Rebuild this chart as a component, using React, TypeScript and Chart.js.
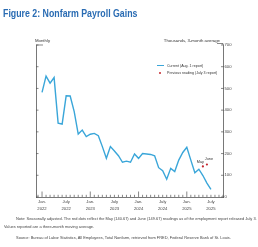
import React, { useEffect, useRef } from "react";
import { Chart, registerables } from "chart.js";
Chart.register(...registerables);

// Months Jan 2022 .. Jul 2025 (index 0..42)
const months = [
  "2022-01","2022-02","2022-03","2022-04","2022-05","2022-06","2022-07","2022-08","2022-09","2022-10","2022-11","2022-12",
  "2023-01","2023-02","2023-03","2023-04","2023-05","2023-06","2023-07","2023-08","2023-09","2023-10","2023-11","2023-12",
  "2024-01","2024-02","2024-03","2024-04","2024-05","2024-06","2024-07","2024-08","2024-09","2024-10","2024-11","2024-12",
  "2025-01","2025-02","2025-03","2025-04","2025-05","2025-06","2025-07",
];
// Current (Aug. 1 report), thousands, 3-month average
const currentValues = [
  482, 557, 524, 550, 340, 336, 466, 465, 393, 290, 308, 278,
  289, 293, 282, 232, 178, 232, 212, 190, 160, 165, 160, 198,
  178, 200, 198, 196, 190, 135, 121, 82, 132, 117, 170, 205,
  229, 170, 112, 128, 99, 64, 35,
];
// Previous reading (July 3 report)
const previousMonths = ["2025-05", "2025-06"];
const previousValues = [140.67, 149.67];
const previousLabels = ["May", "June"];

const xTickMonths = ["2022-01","2022-07","2023-01","2023-07","2024-01","2024-07","2025-01","2025-07"];
const xTickLabels = [["Jan.","2022"],["July","2022"],["Jan.","2023"],["July","2023"],["Jan.","2024"],["July","2024"],["Jan.","2025"],["July","2025"]];
const yTicks = [0, 100, 200, 300, 400, 500, 600, 700];

const LINE_COLOR = "#3aa6d9";
const DOT_COLOR = "#c4262e";
const AXIS_COLOR = "#555";
const FONT = "'Liberation Sans', Arial, sans-serif";

const idx = (m: string) => months.indexOf(m);

const decorPlugin = {
  id: "decor",
  afterDraw(chart: any) {
    const { ctx, chartArea, scales } = chart;
    const x = scales.x;
    const yr = scales.y;
    ctx.save();
    ctx.strokeStyle = AXIS_COLOR;
    ctx.lineWidth = 0.7;
    ctx.beginPath();
    // monthly minor ticks and Jan major ticks (inward)
    for (let i = -1; i <= 45; i++) {
      if (i < x.min || i > x.max) continue;
      const px = x.getPixelForValue(i);
      const monthIdx = ((i % 12) + 12) % 12;
      const len = monthIdx === 0 ? 5.5 : 2.2;
      ctx.moveTo(px, chartArea.bottom);
      ctx.lineTo(px, chartArea.bottom - len);
    }
    // y ticks on both axes
    yTicks.forEach((v) => {
      const py = yr.getPixelForValue(v);
      ctx.moveTo(chartArea.left, py);
      ctx.lineTo(chartArea.left + 2.5, py);
      ctx.moveTo(chartArea.right - 2, py);
      ctx.lineTo(chartArea.right + 1, py);
    });
    // brackets at axis tops
    ctx.moveTo(chartArea.left, chartArea.top);
    ctx.lineTo(chartArea.left + 7, chartArea.top);
    ctx.moveTo(chartArea.right, chartArea.top - 1.5);
    ctx.lineTo(chartArea.right - 6, chartArea.top - 1.5);
    ctx.moveTo(chartArea.right, chartArea.top - 1.5);
    ctx.lineTo(chartArea.right, chartArea.top);
    ctx.stroke();

    // May / June labels
    ctx.fillStyle = "#333";
    ctx.font = `3.8px ${FONT}`;
    ctx.textBaseline = "middle";
    ctx.textAlign = "center";
    previousMonths.forEach((m, k) => {
      const px = x.getPixelForValue(idx(m));
      const py = yr.getPixelForValue(previousValues[k]);
      if (k === 0) {
        ctx.fillText(previousLabels[k], px - 2.5, py - 4.5);
      } else {
        ctx.fillText(previousLabels[k], px + 2, py - 5.5);
      }
    });
    ctx.restore();
  },
};

export default function App() {
  const ref = useRef<HTMLCanvasElement | null>(null);
  useEffect(() => {
    if (!ref.current) return;
    const chart = new Chart(ref.current, {
      type: "line",
      data: {
        datasets: [
          {
            label: "Current (Aug. 1 report)",
            data: currentValues.map((v, i) => ({ x: i, y: v })),
            borderColor: LINE_COLOR,
            borderWidth: 1.4,
            pointRadius: 0,
            tension: 0,
            yAxisID: "y",
          },
          {
            label: "Previous reading (July 3 report)",
            data: previousMonths.map((m, k) => ({ x: idx(m), y: previousValues[k] })),
            showLine: false,
            pointRadius: 1.1,
            pointBackgroundColor: DOT_COLOR,
            pointBorderColor: DOT_COLOR,
            borderWidth: 0,
            yAxisID: "y",
          },
        ],
      },
      options: {
        responsive: false,
        animation: false,
        devicePixelRatio: 1,
        layout: { padding: { left: 36, top: 45, right: 0, bottom: 0 } },
        plugins: { legend: { display: false }, tooltip: { enabled: false }, title: { display: false } },
        scales: {
          x: {
            type: "linear",
            min: -1.5,
            max: 45,
            grid: { display: false, drawTicks: false },
            border: { display: true, color: AXIS_COLOR, width: 0.8 },
            afterBuildTicks: (scale: any) => {
              scale.ticks = xTickMonths.map((m) => ({ value: idx(m) }));
            },
            afterFit: (scale: any) => {
              scale.height = 50;
            },
            ticks: {
              autoSkip: false,
              maxRotation: 0,
              padding: 1.5,
              color: "#444",
              font: { size: 4.2, family: FONT, lineHeight: 1.7 },
              callback: (value: any) => {
                const k = xTickMonths.findIndex((m) => idx(m) === value);
                return k >= 0 ? xTickLabels[k] : "";
              },
            },
          },
          y: {
            position: "right",
            min: 0,
            max: 700,
            grid: { display: false, drawTicks: false },
            border: { display: true, color: AXIS_COLOR, width: 0.8 },
            afterBuildTicks: (scale: any) => {
              scale.ticks = yTicks.map((v) => ({ value: v }));
            },
            afterFit: (scale: any) => {
              scale.width = 35;
            },
            ticks: { padding: 1.5, color: "#444", font: { size: 4.2, family: FONT } },
          },
          yl: {
            position: "left",
            min: 0,
            max: 700,
            grid: { display: false, drawTicks: false },
            border: { display: true, color: AXIS_COLOR, width: 0.8 },
            ticks: { display: false },
            afterFit: (scale: any) => {
              scale.width = 0;
            },
          },
        },
      },
      plugins: [decorPlugin],
    });
    return () => chart.destroy();
  }, []);

  const txt: React.CSSProperties = { position: "absolute", whiteSpace: "nowrap", fontFamily: FONT, color: "#333" };

  return (
    <div style={{ position: "fixed", left: 0, top: 0, width: 258, height: 247, background: "#fff", overflow: "hidden" }}>
      <canvas ref={ref} width={258} height={247} style={{ position: "absolute", left: 0, top: 0, width: 258, height: 247 }} />
      <div
        style={{
          ...txt,
          left: 3,
          top: 6,
          fontFamily: FONT,
          fontWeight: "bold",
          fontSize: 11,
          lineHeight: "14px",
          color: "#2a6cb3",
          transform: "scaleX(0.8)",
          transformOrigin: "left top",
        }}
      >
        Figure 2: Nonfarm Payroll Gains
      </div>
      <div style={{ ...txt, left: 35, top: 38, fontSize: 4.3, lineHeight: "5px" }}>Monthly</div>
      <div style={{ ...txt, right: 38, top: 37.5, fontSize: 4.3, lineHeight: "5px" }}>Thousands, 3-month average</div>
      {/* legend */}
      <div style={{ position: "absolute", left: 157, top: 65, width: 7, height: 1.2, background: LINE_COLOR }} />
      <div style={{ ...txt, left: 167, top: 63.6, fontSize: 3.6, lineHeight: "4px" }}>Current (Aug. 1 report)</div>
      <div style={{ position: "absolute", left: 159.3, top: 71.7, width: 2.2, height: 2.2, borderRadius: "50%", background: DOT_COLOR }} />
      <div style={{ ...txt, left: 167, top: 70.6, fontSize: 3.6, lineHeight: "4px" }}>Previous reading (July 3 report)</div>
      {/* notes */}
      <div style={{ ...txt, left: 4, top: 215, fontSize: 3.95, lineHeight: "8px", whiteSpace: "normal", width: 256, textIndent: 12, color: "#444" }}>
        Note: Seasonally adjusted. The red dots reflect the May (140.67) and June (149.67) readings as of the employment report released July 3.
        <br />
        Values reported are a three-month moving average.
      </div>
      <div style={{ ...txt, left: 16, top: 235.5, fontSize: 3.95, lineHeight: "4px", color: "#444" }}>
        Source: Bureau of Labor Statistics, All Employees, Total Nonfarm, retrieved from FRED, Federal Reserve Bank of St. Louis.
      </div>
    </div>
  );
}
